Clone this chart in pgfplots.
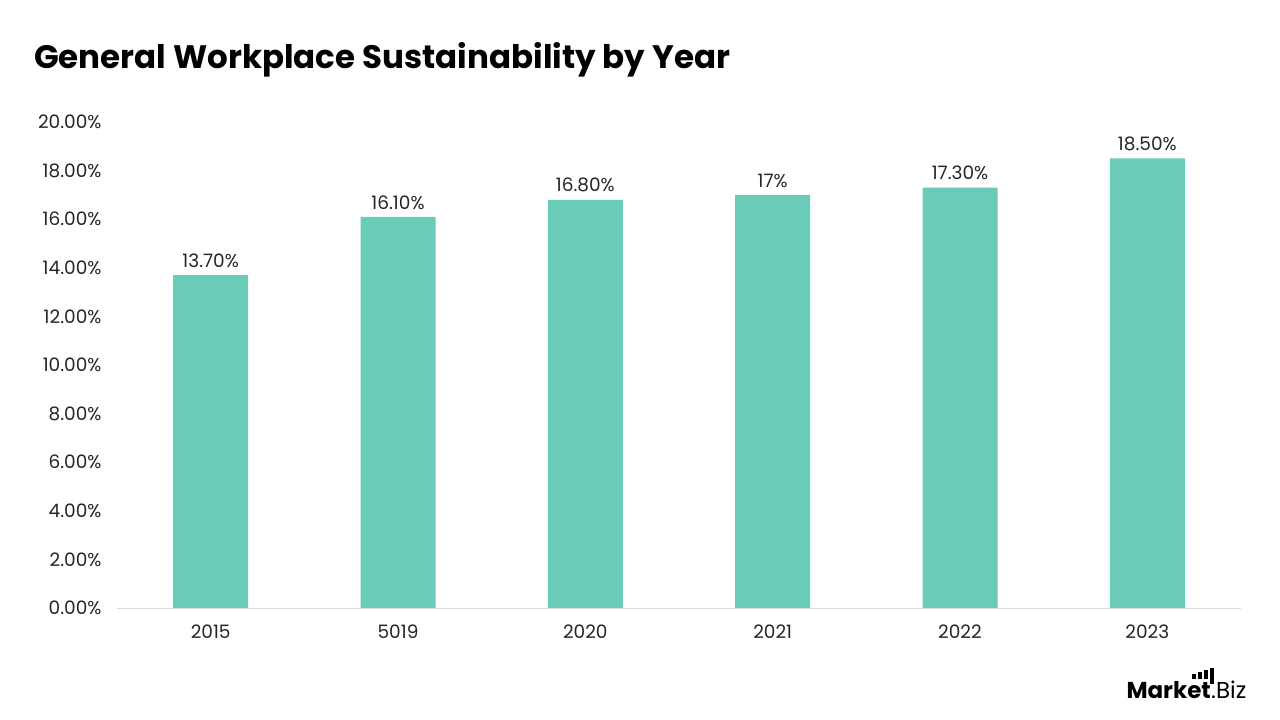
\documentclass[border=0pt]{standalone}
\usepackage{fontspec}
\setmainfont{Poppins}
\usepackage{pgfplots}
\pgfplotsset{compat=1.18}
\definecolor{barc}{HTML}{68CCB8}
\definecolor{txt}{HTML}{262626}
\definecolor{axl}{HTML}{D9D9D9}
\begin{document}
\begin{tikzpicture}[x=1pt,y=1pt]
\fill[white] (0,0) rectangle (1280,720);
\node[anchor=west,font=\fontsize{32.5}{36}\selectfont\bfseries,text=black,inner sep=0pt] at (34,660) {General Workplace Sustainability by Year};
\begin{axis}[
  at={(117pt,112pt)}, anchor=south west,
  scale only axis, width=1124pt, height=486pt,
  xmin=-0.5, xmax=5.5, ymin=0, ymax=20,
  axis x line*=bottom, axis y line*=left,
  x axis line style={axl, line width=0.8pt, -},
  y axis line style={draw=none},
  xtick=data, xticklabels={2015,5019,2020,2021,2022,2023},
  xtick style={draw=none}, ytick style={draw=none},
  ytick={0,2,...,20},
  yticklabel={\pgfmathprintnumber[fixed,fixed zerofill,precision=2]{\tick}\%},
  /pgf/number format/assume math mode=true,
  ticklabel style={font=\fontsize{18.5}{22}\selectfont, text=txt},
  yticklabel style={xshift=-12pt},
  xticklabel style={yshift=-13pt},
  clip=false,
]
\addplot[ybar, bar width=75pt, fill=barc, draw=none,
  point meta=explicit symbolic,
  nodes near coords, nodes near coords style={font=\fontsize{18.5}{22}\selectfont, text=txt, yshift=4pt}]
  coordinates {(0,13.7)[13.70\%] (1,16.1)[16.10\%] (2,16.8)[16.80\%] (3,17.0)[17\%] (4,17.3)[17.30\%] (5,18.5)[18.50\%]};
\end{axis}
\node[anchor=base east,font=\fontsize{23}{24}\selectfont\bfseries,inner sep=0pt] (m) at (1211,21) {Market};
\node[anchor=base west,font=\fontsize{23}{24}\selectfont,inner sep=0pt] at (m.base east) {.Biz};
\fill[black] (1192,41) rectangle (1196,46);
\fill[black] (1198,41) rectangle (1202,48);
\fill[black] (1204,41) rectangle (1208,50);
\fill[black] (1210,36) rectangle (1214,52);
\end{tikzpicture}
\end{document}
